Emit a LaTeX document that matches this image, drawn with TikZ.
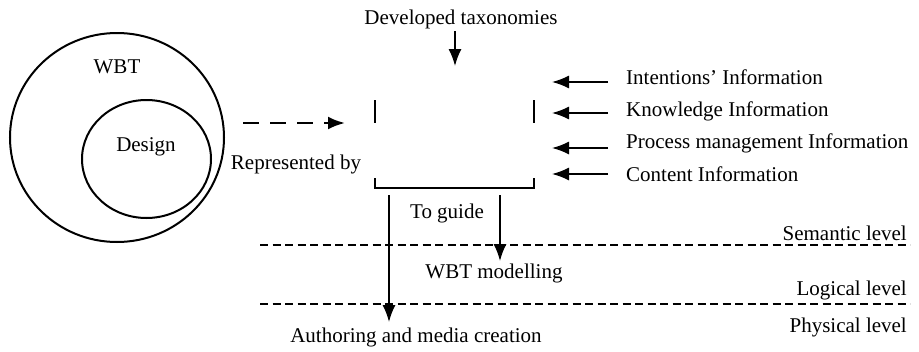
\documentclass[tikz,border=0pt]{standalone}
\usepackage{fontspec}
\setmainfont{Liberation Serif}
\usetikzlibrary{arrows.meta}
\begin{document}
\begin{tikzpicture}[x=1pt,y=-1pt,
  lbl/.style={inner sep=0pt, font=\fontsize{21}{24}\selectfont},
  arr/.style={line width=1.6pt, -{Latex[length=17pt,width=13pt]}},
  lvl/.style={line width=2pt, dash pattern=on 8pt off 4.5pt},
  ring/.style={draw, line width=2pt},
  bracket/.style={line width=1.6pt}]
\useasboundingbox[fill=white] (0,0) rectangle (919,351);
% circles
\draw[ring] (117,137.5) ellipse [x radius=107pt, y radius=104.5pt];
\draw[ring] (146.5,159) ellipse [x radius=64.5pt, y radius=59pt];
% labels
\node[lbl] (wbt) at (117,67) {WBT};
\node[lbl] (design) at (146,147) {Design};
\node[lbl] (rep) at (296,164) {Represented by};
\node[lbl] (dev) at (461,19) {Developed taxonomies};
\node[lbl, anchor=west] (int) at (626,77) {Intentions’ Information};
\node[lbl, anchor=west] (kno) at (626,111) {Knowledge Information};
\node[lbl, anchor=west] (pro) at (626,143) {Process management Information};
\node[lbl, anchor=west] (con) at (626,174) {Content Information};
\node[lbl] (guide) at (447,213) {To guide};
\node[lbl] (model) at (494,273) {WBT modelling};
\node[lbl] (auth) at (416,337) {Authoring and media creation};
\node[lbl, anchor=east] (sem) at (907,233) {Semantic level};
\node[lbl, anchor=east] (log) at (907,290) {Logical level};
\node[lbl, anchor=east] (phy) at (907,327) {Physical level};
% coordinates
\coordinate (dashS) at (243,123);
\coordinate (dashE) at (345,123);
\coordinate (devA) at (455,31);
\coordinate (devB) at (455,66);
\coordinate (intA) at (608,82);  \coordinate (intB) at (552,82);
\coordinate (knoA) at (608,113); \coordinate (knoB) at (552,113);
\coordinate (proA) at (608,148); \coordinate (proB) at (552,148);
\coordinate (conA) at (608,174); \coordinate (conB) at (552,174);
\coordinate (authA) at (389,195); \coordinate (authB) at (389,322);
\coordinate (modA) at (500,195);  \coordinate (modB) at (500,261);
\coordinate (l1a) at (260,245); \coordinate (l1b) at (910,245);
\coordinate (l2a) at (260,304); \coordinate (l2b) at (910,304);
% levels
\draw[lvl] (l1a) -- (l1b);
\draw[lvl] (l2a) -- (l2b);
% bracket (visible parts)
\draw[bracket] (375,100) -- (375,123);
\draw[bracket] (534,100) -- (534,123);
\draw[bracket] (375,178) -- (375,188) -- (534,188) -- (534,178);
% arrows
\draw[line width=2.5pt, dash pattern=on 16pt off 11pt, -{Latex[length=17pt,width=13pt]}] (dashS) -- (dashE);
\draw[arr] (devA) -- (devB);
\draw[arr] (intA) -- (intB);
\draw[arr] (knoA) -- (knoB);
\draw[arr] (proA) -- (proB);
\draw[arr] (conA) -- (conB);
\draw[arr] (authA) -- (authB);
\draw[arr] (modA) -- (modB);
\end{tikzpicture}
\end{document}
